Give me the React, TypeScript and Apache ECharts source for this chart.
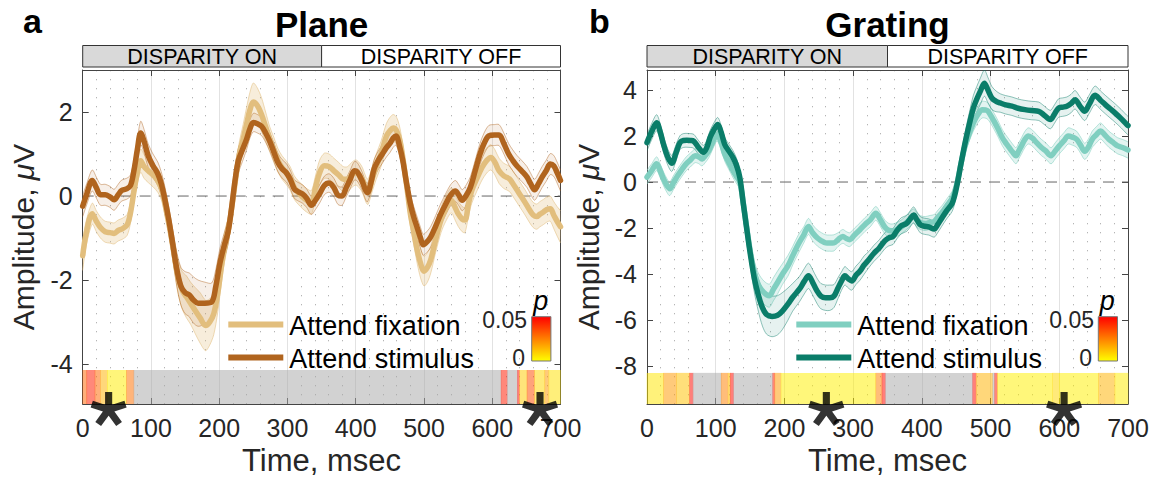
import React, { useEffect, useRef } from "react";
import * as echarts from "echarts";

const FONT = "'Liberation Sans', Arial, Helvetica, sans-serif";

// ---------- data: [time ms, mean µV, half-width of band µV] ----------
const planeFix: number[][] = [
  [0,-1.42,0.35],[5,-0.9,0.3],[14,-0.42,0.25],[20,-0.6,0.25],[26,-0.75,0.25],[33,-0.85,0.25],[40,-0.87,0.25],[46,-0.89,0.25],
  [52,-0.82,0.25],[58,-0.78,0.25],[65,-0.69,0.25],[70,-0.4,0.25],[75,0.1,0.25],[80,0.55,0.25],[85,0.84,0.28],[90,0.7,0.28],
  [96,0.6,0.28],[103,0.5,0.28],[110,0.37,0.28],[116,0.15,0.28],[122,-0.3,0.3],[128,-0.8,0.3],[134,-1.4,0.35],[140,-1.95,0.4],
  [146,-2.25,0.45],[152,-2.4,0.5],[158,-2.55,0.5],[165,-2.73,0.55],[172,-2.9,0.6],[180,-3.08,0.6],[186,-3.0,0.55],[192,-2.8,0.5],
  [198,-2.3,0.45],[203,-1.7,0.4],[208,-1.2,0.35],[214,-0.75,0.3],[219,-0.2,0.3],[224,0.4,0.3],[229,0.95,0.3],[235,1.35,0.35],
  [240,1.7,0.4],[245,2.05,0.42],[250,2.24,0.45],[256,2.15,0.42],[262,1.94,0.4],[268,1.65,0.35],[274,1.35,0.3],[280,1.1,0.3],
  [286,0.85,0.28],[292,0.68,0.28],[298,0.56,0.28],[304,0.42,0.28],[310,0.2,0.28],[316,0.08,0.28],[322,-0.02,0.28],[328,-0.1,0.28],
  [335,-0.15,0.28],[341,0.2,0.28],[347,0.55,0.3],[354,0.72,0.3],[361,0.7,0.3],[368,0.6,0.3],[375,0.5,0.3],[382,0.4,0.3],
  [388,0.4,0.3],[394,0.5,0.3],[400,0.56,0.3],[405,0.5,0.3],[410,0.37,0.3],[415,0.15,0.3],[418,0.1,0.3],[424,0.4,0.3],
  [430,0.7,0.3],[437,1.0,0.3],[445,1.43,0.3],[450,1.55,0.32],[455,1.62,0.32],[460,1.55,0.32],[465,1.3,0.3],[470,0.8,0.3],
  [475,0.2,0.3],[480,-0.42,0.3],[485,-0.85,0.3],[490,-1.28,0.32],[495,-1.6,0.35],[500,-1.79,0.35],[505,-1.7,0.35],[510,-1.51,0.32],
  [517,-1.05,0.3],[525,-0.57,0.3],[532,-0.3,0.3],[540,-0.1,0.3],[545,-0.25,0.3],[550,-0.42,0.3],[556,-0.55,0.3],[560,-0.57,0.3],
  [565,-0.2,0.3],[570,0.13,0.3],[577,0.4,0.3],[585,0.68,0.3],[592,0.85,0.3],[598,0.92,0.3],[604,0.8,0.3],[610,0.6,0.3],
  [617,0.48,0.3],[625,0.41,0.3],[632,0.25,0.3],[640,0.05,0.3],[648,-0.15,0.3],[655,-0.34,0.3],[660,-0.45,0.3],[665,-0.49,0.3],
  [670,-0.43,0.3],[675,-0.38,0.3],[680,-0.32,0.3],[685,-0.3,0.3],[690,-0.45,0.32],[695,-0.6,0.35],[700,-0.73,0.38],
];

const planeStim: number[][] = [
  [0,-0.24,0.25],[6,0.05,0.25],[14,0.37,0.25],[20,0.2,0.25],[26,0.03,0.25],[33,0.03,0.25],[40,-0.02,0.25],[46,-0.09,0.25],
  [52,0.03,0.25],[57,0.13,0.25],[64,0.17,0.25],[70,0.25,0.25],[75,0.6,0.25],[80,1.1,0.25],[85,1.5,0.28],[90,1.3,0.28],
  [96,0.96,0.28],[103,0.72,0.28],[110,0.53,0.28],[115,0.3,0.28],[120,-0.05,0.3],[126,-0.55,0.3],[132,-1.15,0.35],[138,-1.75,0.4],
  [144,-2.15,0.45],[150,-2.3,0.5],[156,-2.35,0.52],[162,-2.47,0.55],[169,-2.55,0.55],[179,-2.55,0.5],[189,-2.52,0.45],[195,-2.15,0.4],
  [201,-1.6,0.35],[207,-1.2,0.3],[213,-0.85,0.3],[218,-0.3,0.3],[223,0.35,0.3],[228,0.84,0.3],[234,1.1,0.28],[240,1.35,0.25],
  [245,1.6,0.22],[250,1.75,0.22],[256,1.72,0.22],[262,1.66,0.22],[268,1.5,0.22],[274,1.3,0.22],[280,1.05,0.22],[286,0.8,0.22],
  [292,0.65,0.22],[298,0.56,0.22],[304,0.4,0.22],[310,0.17,0.22],[316,0.1,0.22],[322,0.05,0.22],[328,-0.05,0.22],[335,-0.22,0.22],
  [341,-0.1,0.22],[347,0.05,0.22],[354,0.25,0.22],[361,0.31,0.22],[368,0.2,0.22],[374,0.02,0.22],[380,0.0,0.22],[386,0.2,0.22],
  [392,0.4,0.22],[398,0.6,0.22],[402,0.58,0.22],[409,0.37,0.22],[414,0.15,0.22],[417,0.08,0.22],[422,0.3,0.22],[427,0.65,0.22],
  [433,0.85,0.22],[439,1.0,0.22],[445,1.15,0.22],[450,1.25,0.22],[455,1.38,0.22],[459,1.43,0.22],[464,1.2,0.22],[469,0.84,0.22],
  [474,0.35,0.22],[480,-0.18,0.22],[485,-0.5,0.25],[490,-0.75,0.25],[495,-1.0,0.25],[499,-1.16,0.25],[505,-1.08,0.25],[510,-0.97,0.25],
  [517,-0.72,0.25],[524,-0.45,0.25],[531,-0.22,0.25],[539,0.02,0.25],[546,0.12,0.25],[551,0.02,0.25],[556,-0.1,0.25],[562,0.02,0.25],
  [568,0.21,0.25],[575,0.6,0.25],[582,1.0,0.25],[588,1.25,0.25],[595,1.43,0.25],[603,1.45,0.25],[610,1.45,0.25],[617,1.25,0.25],
  [624,1.0,0.25],[630,0.85,0.25],[636,0.72,0.25],[643,0.6,0.25],[651,0.45,0.25],[656,0.3,0.25],[662,0.15,0.25],[668,0.3,0.25],
  [673,0.45,0.25],[679,0.6,0.25],[685,0.76,0.25],[690,0.72,0.25],[695,0.56,0.25],[700,0.37,0.25],
];

const gratFix: number[][] = [
  [0,0.21,0.3],[7,0.5,0.3],[14,0.79,0.3],[19,0.5,0.3],[24,0.14,0.3],[29,-0.15,0.3],[33,-0.29,0.3],[39,0.0,0.3],
  [45,0.29,0.3],[51,0.55,0.3],[57,0.79,0.3],[63,0.95,0.3],[70,1.14,0.3],[75,1.1,0.3],[80,1.0,0.3],[85,1.15,0.3],
  [90,1.36,0.3],[96,1.75,0.3],[102,2.07,0.3],[108,1.7,0.3],[113,1.21,0.3],[119,0.85,0.3],[125,0.5,0.3],[130,0.25,0.3],
  [135,0.0,0.3],[140,-0.9,0.35],[145,-1.95,0.4],[150,-2.95,0.45],[156,-3.9,0.5],[162,-4.45,0.5],[170,-4.79,0.5],[178,-4.93,0.5],
  [184,-4.65,0.5],[190,-4.36,0.5],[197,-4.0,0.45],[205,-3.64,0.45],[212,-3.2,0.4],[220,-2.71,0.4],[228,-2.3,0.35],[235,-1.93,0.35],
  [241,-2.2,0.35],[248,-2.43,0.35],[254,-2.55,0.35],[260,-2.64,0.35],[266,-2.65,0.35],[272,-2.64,0.35],[278,-2.5,0.3],[285,-2.36,0.3],
  [290,-2.45,0.3],[295,-2.5,0.3],[302,-2.3,0.3],[310,-2.07,0.3],[317,-1.85,0.3],[325,-1.64,0.3],[333,-1.36,0.3],[339,-1.6,0.3],
  [346,-1.95,0.3],[352,-2.1,0.3],[358,-2.12,0.3],[364,-2.05,0.3],[370,-1.95,0.3],[378,-1.75,0.3],[383,-1.6,0.3],[388,-1.47,0.3],
  [393,-1.65,0.3],[398,-1.76,0.3],[405,-1.8,0.3],[412,-1.75,0.3],[418,-1.71,0.3],[424,-1.5,0.3],[430,-1.3,0.3],[437,-1.0,0.3],
  [444,-0.71,0.3],[448,-0.4,0.3],[452,0.05,0.3],[457,0.8,0.3],[463,1.57,0.3],[469,2.1,0.32],[475,2.57,0.35],[482,2.95,0.36],
  [488,3.14,0.36],[495,3.1,0.36],[500,2.9,0.35],[505,2.64,0.35],[511,2.3,0.35],[517,1.93,0.35],[522,1.7,0.35],[527,1.5,0.35],
  [532,1.3,0.35],[537,1.14,0.35],[541,1.35,0.35],[545,1.57,0.35],[550,1.85,0.35],[555,2.0,0.35],[561,1.9,0.35],[567,1.71,0.35],
  [574,1.5,0.35],[580,1.36,0.35],[588,1.14,0.35],[594,1.35,0.35],[600,1.57,0.35],[607,1.8,0.35],[613,2.0,0.35],[619,1.95,0.35],
  [625,1.86,0.35],[631,1.6,0.35],[637,1.33,0.35],[643,1.55,0.35],[648,1.86,0.35],[654,2.05,0.35],[660,2.21,0.35],[666,2.05,0.35],
  [672,1.86,0.35],[679,1.7,0.35],[685,1.57,0.35],[692,1.5,0.35],[700,1.39,0.35],
];

const gratStim: number[][] = [
  [0,1.71,0.35],[7,2.2,0.35],[14,2.57,0.35],[19,2.2,0.35],[24,1.64,0.35],[30,1.1,0.35],[36,0.81,0.35],[42,1.25,0.35],
  [48,1.71,0.3],[53,1.8,0.3],[58,1.81,0.3],[63,1.8,0.3],[68,1.77,0.3],[75,1.5,0.3],[82,1.29,0.3],[87,1.5,0.3],
  [92,1.95,0.3],[98,2.3,0.3],[103,2.5,0.3],[108,2.15,0.3],[113,1.64,0.3],[119,1.35,0.3],[125,1.07,0.3],[130,0.75,0.3],
  [135,0.21,0.3],[140,-0.9,0.35],[145,-2.0,0.4],[150,-3.05,0.5],[156,-4.15,0.6],[162,-4.9,0.7],[168,-5.45,0.8],[174,-5.75,0.85],
  [182,-5.83,0.88],[190,-5.78,0.85],[197,-5.6,0.8],[205,-5.3,0.7],[212,-5.0,0.6],[222,-4.64,0.55],[229,-4.3,0.55],[235,-4.07,0.55],
  [241,-4.35,0.55],[247,-4.7,0.55],[253,-4.95,0.55],[260,-5.02,0.55],[266,-5.02,0.55],[272,-4.95,0.5],[278,-4.6,0.45],[283,-4.3,0.4],
  [288,-4.07,0.4],[293,-4.2,0.4],[298,-4.29,0.4],[304,-4.05,0.4],[310,-3.86,0.4],[316,-3.6,0.4],[323,-3.36,0.35],[330,-3.1,0.35],
  [338,-2.86,0.35],[346,-2.55,0.35],[352,-2.42,0.35],[358,-2.36,0.35],[364,-2.1,0.35],[370,-1.9,0.35],[378,-1.79,0.35],[383,-1.6,0.35],
  [388,-1.43,0.35],[393,-1.65,0.35],[398,-1.86,0.35],[404,-1.92,0.35],[410,-1.95,0.35],[418,-2.04,0.35],[423,-1.85,0.35],[429,-1.57,0.35],
  [436,-1.25,0.35],[444,-0.93,0.35],[448,-0.55,0.35],[452,0.0,0.35],[457,0.8,0.4],[463,1.71,0.45],[469,2.5,0.5],[475,3.21,0.55],
  [480,3.6,0.55],[485,3.93,0.57],[491,4.29,0.57],[496,4.0,0.55],[502,3.64,0.5],[508,3.5,0.45],[514,3.43,0.4],[522,3.35,0.4],
  [531,3.29,0.4],[540,3.2,0.4],[550,3.14,0.4],[560,3.1,0.4],[570,3.07,0.4],[578,2.9,0.4],[587,2.71,0.4],[593,2.95,0.4],
  [599,3.21,0.4],[605,3.25,0.4],[611,3.29,0.4],[617,3.4,0.4],[623,3.57,0.4],[630,3.3,0.4],[637,3.07,0.4],[644,3.4,0.4],
  [652,3.76,0.4],[660,3.55,0.4],[667,3.36,0.4],[674,3.18,0.4],[681,3.0,0.4],[690,2.75,0.4],[698,2.5,0.4],[700,2.45,0.4],
];

// p-value segments: [from ms, to ms, p]; p >= 0.05 = not significant (grey)
const planeP: number[][] = [
  [0,6,0.03],[6,18,0.045],[18,26,0.03],[26,36,0.015],[36,64,0.004],[64,75,0.028],[75,613,1],[613,622,0.045],
  [622,637,1],[637,640,0.048],[640,651,0.01],[651,662,0.035],[662,677,0.008],[677,683,0.02],[683,700,0.006],
];
const gratP: number[][] = [
  [0,24,0.005],[24,43,0.02],[43,62,0.012],[62,67,0.048],[67,108,1],[108,118,0.025],[118,121,0.01],[121,126,0.048],
  [126,183,1],[183,186,0.045],[186,195,0.02],[195,333,0.003],[333,342,0.025],[342,347,0.048],[347,474,1],[474,479,0.048],
  [479,503,0.015],[503,506,1],[506,510,0.045],[510,590,0.003],[590,600,0.008],[600,657,0.003],[657,681,0.015],[681,700,0.004],
];

const planeStars = [38, 670];
const gratStars = [261, 607];

const xTicks = [0, 100, 200, 300, 400, 500, 600, 700];
const planeYTicks = [-4, -2, 0, 2];
const gratYTicks = [-8, -6, -4, -2, 0, 2, 4];
const planeYRange = [-4.95, 3.0];
const gratYRange = [-9.63, 4.86];
const planePBar = [-4.95, -4.14];
const gratPBar = [-9.63, -8.28];

const legendNames = ["Attend fixation", "Attend stimulus"];
const disparityLabels = ["DISPARITY ON", "DISPARITY OFF"];
const colorbarLabels = ["0.05", "0"];

const COL = {
  planeFix: "#e2be7d",
  planeStim: "#b0641e",
  gratFix: "#80cfc0",
  gratStim: "#0a7d69",
};

// geometry
const GA = { left: 82.7, top: 70, width: 477.8, height: 338 };
const GB = { left: 647, top: 70, width: 481, height: 338 };

function asteriskPath(): string {
  const w = 0.2;
  let d = "";
  for (let k = 0; k < 5; k++) {
    const a = ((-90 + 72 * k) * Math.PI) / 180;
    const ux = Math.cos(a), uy = Math.sin(a);
    const px = -uy * w, py = ux * w;
    const pts = [
      [px, py],
      [ux + px, uy + py],
      [ux - px, uy - py],
      [-px, -py],
    ];
    d += "M" + pts.map((p) => (p[0] * 50 + 50).toFixed(2) + " " + (p[1] * 50 + 50).toFixed(2)).join("L") + "Z";
  }
  return "path://" + d;
}

function pColor(p: number): string {
  if (p >= 0.05) return "#a8a8a8";
  const g = Math.round(255 * (1 - p / 0.05));
  return `rgb(255,${Math.max(g, 0)},0)`;
}

function bandSeries(rows: number[][], color: string, fillOp: number, edgeOp: number, ai: number) {
  return {
    type: "custom",
    xAxisIndex: ai,
    yAxisIndex: ai,
    clip: true,
    silent: true,
    z: 2,
    data: rows.map((r) => [r[0], r[1] - r[2], r[1] + r[2]]),
    encode: { x: 0, y: [1, 2] },
    renderItem: (params: any, api: any) => {
      if (params.dataIndex !== 0) return null;
      const up = rows.map((r) => api.coord([r[0], r[1] + r[2]]));
      const lo = rows.map((r) => api.coord([r[0], r[1] - r[2]]));
      return {
        type: "group",
        children: [
          {
            type: "polygon",
            shape: { points: up.concat(lo.slice().reverse()), smooth: 0.3 },
            style: { fill: color, opacity: fillOp },
          },
          {
            type: "polyline",
            shape: { points: up, smooth: 0.3 },
            style: { stroke: color, fill: null, lineWidth: 1, opacity: edgeOp },
          },
          {
            type: "polyline",
            shape: { points: lo, smooth: 0.3 },
            style: { stroke: color, fill: null, lineWidth: 1, opacity: edgeOp },
          },
        ],
      };
    },
  };
}

function meanSeries(name: string, rows: number[][], color: string, ai: number, z: number) {
  return {
    type: "line",
    name,
    xAxisIndex: ai,
    yAxisIndex: ai,
    data: rows.map((r) => [r[0], r[1]]),
    showSymbol: false,
    symbol: "none",
    smooth: 0.35,
    z,
    lineStyle: { color, width: 5.5, cap: "round", join: "round" },
    silent: true,
  };
}

function pBarSeries(rows: number[][], bar: number[], ai: number) {
  return {
    type: "custom",
    xAxisIndex: ai,
    yAxisIndex: ai,
    silent: true,
    z: 5,
    data: rows,
    encode: { x: [0, 1] },
    renderItem: (params: any, api: any) => {
      const a = api.coord([api.value(0), bar[1]]);
      const b = api.coord([api.value(1), bar[0]]);
      return {
        type: "rect",
        shape: { x: a[0] - 0.3, y: a[1], width: b[0] - a[0] + 0.6, height: b[1] - a[1] },
        style: { fill: pColor(api.value(2)), opacity: 0.52 },
      };
    },
  };
}

function starSeries(times: number[], yMin: number, ai: number) {
  return {
    type: "scatter",
    xAxisIndex: ai,
    yAxisIndex: ai,
    data: times.map((t) => [t, yMin]),
    symbol: asteriskPath(),
    symbolKeepAspect: true,
    symbolSize: 36,
    symbolOffset: [0, 5],
    itemStyle: { color: "#000" },
    clip: false,
    silent: true,
    z: 20,
  };
}

function zeroLine(ai: number) {
  return {
    type: "line",
    xAxisIndex: ai,
    yAxisIndex: ai,
    data: [[0, 0], [700, 0]],
    showSymbol: false,
    symbol: "none",
    lineStyle: { color: "#666", width: 1, type: [11, 8] },
    z: 1,
    silent: true,
  };
}

const axisTickStyle = { show: true, inside: true, length: 6, lineStyle: { color: "#444", width: 1 } };
const axisLineStyle = { show: true, onZero: false, lineStyle: { color: "#444", width: 1 } };
const labelStyle = { fontFamily: FONT, fontSize: 25, color: "#262626" };

function xAxes(gi: number) {
  return [
    {
      type: "value",
      gridIndex: gi,
      position: "bottom",
      min: 0,
      max: 700,
      interval: 100,
      axisLine: axisLineStyle,
      axisTick: axisTickStyle,
      axisLabel: { ...labelStyle, margin: 11, customValues: xTicks },
      splitLine: { show: true, lineStyle: { color: "#e2e2e2", width: 1 } },
      minorTick: { show: false, splitNumber: 5 },
      minorSplitLine: { show: true, lineStyle: { color: "#b5b5b5", width: 1, type: [1.3, 7.7] } },
      name: "Time, msec",
      nameLocation: "middle",
      nameGap: 41,
      nameTextStyle: { fontFamily: FONT, fontSize: 31, color: "#262626" },
    },
    {
      type: "value",
      gridIndex: gi,
      position: "top",
      min: 0,
      max: 700,
      interval: 100,
      axisLine: axisLineStyle,
      axisTick: axisTickStyle,
      axisLabel: { show: false },
      splitLine: { show: false },
    },
  ];
}

function yAxes(gi: number, range: number[], ticks: number[]) {
  return [
    {
      type: "value",
      gridIndex: gi,
      position: "left",
      min: range[0],
      max: range[1],
      axisLine: axisLineStyle,
      axisTick: { ...axisTickStyle, customValues: ticks },
      axisLabel: { ...labelStyle, margin: 10, customValues: ticks },
      splitLine: { show: false },
      name: "Amplitude, {i|μ}V",
      nameLocation: "middle",
      nameGap: 44,
      nameTextStyle: {
        fontFamily: FONT,
        fontSize: 30,
        color: "#262626",
        rich: { i: { fontFamily: FONT, fontSize: 30, fontStyle: "italic", color: "#262626" } },
      },
    },
    {
      type: "value",
      gridIndex: gi,
      position: "right",
      min: range[0],
      max: range[1],
      axisLine: axisLineStyle,
      axisTick: { ...axisTickStyle, customValues: ticks },
      axisLabel: { show: false },
      splitLine: { show: false },
    },
  ];
}

function panelGraphics(g: typeof GA, letter: string, title: string, colors: string[], legendX: number, cbX: number, cbLabelRight: number) {
  const els: any[] = [];
  const mid = g.left + g.width / 2;
  els.push({
    type: "text",
    x: mid,
    y: 24,
    z: 40,
    style: { text: title, fontFamily: FONT, fontSize: 35, fontWeight: "bold", fill: "#000", align: "center", verticalAlign: "middle" },
  });
  els.push({
    type: "text",
    x: letter === "a" ? 23 : 589,
    y: 21,
    z: 40,
    style: { text: letter, fontFamily: FONT, fontSize: 34, fontWeight: "bold", fill: "#000", align: "left", verticalAlign: "middle" },
  });
  // disparity header
  const half = g.width / 2;
  els.push({
    type: "rect",
    shape: { x: g.left, y: 45.5, width: half, height: 21.5 },
    style: { fill: "#d9d9d9", stroke: "#333", lineWidth: 1 },
  });
  els.push({
    type: "rect",
    shape: { x: g.left + half, y: 45.5, width: half, height: 21.5 },
    style: { fill: "#fff", stroke: "#333", lineWidth: 1 },
  });
  disparityLabels.forEach((lab, i) => {
    els.push({
      type: "text",
      x: g.left + half * (i + 0.5),
      y: 57,
      style: { text: lab, fontFamily: FONT, fontSize: 21.5, fill: "#000", align: "center", verticalAlign: "middle" },
    });
  });
  // legend
  const ly = [324.5, 357.5];
  legendNames.forEach((n, i) => {
    els.push({
      type: "line",
      shape: { x1: legendX, y1: ly[i], x2: legendX + 55, y2: ly[i] },
      style: { stroke: colors[i], lineWidth: 6 },
      z: 30,
    });
    els.push({
      type: "text",
      x: legendX + 61,
      y: ly[i] + 1,
      style: { text: n, fontFamily: FONT, fontSize: 27, fill: "#000", align: "left", verticalAlign: "middle" },
      z: 30,
    });
  });
  // colorbar
  els.push({
    type: "rect",
    shape: { x: cbX, y: 316.7, width: 19.2, height: 44.3 },
    style: {
      fill: new echarts.graphic.LinearGradient(0, 0, 0, 1, [
        { offset: 0, color: "#ff0000" },
        { offset: 1, color: "#ffff00" },
      ]),
      stroke: "#777",
      lineWidth: 1,
    },
    z: 30,
  });
  els.push({
    type: "text",
    x: cbLabelRight,
    y: 320,
    style: { text: colorbarLabels[0], fontFamily: FONT, fontSize: 23, fill: "#262626", align: "right", verticalAlign: "middle" },
    z: 30,
  });
  els.push({
    type: "text",
    x: cbLabelRight - 2,
    y: 358,
    style: { text: colorbarLabels[1], fontFamily: FONT, fontSize: 23, fill: "#262626", align: "right", verticalAlign: "middle" },
    z: 30,
  });
  els.push({
    type: "text",
    x: cbX + 9,
    y: 301,
    style: { text: "p", fontFamily: FONT, fontSize: 27, fontStyle: "italic", fill: "#000", align: "center", verticalAlign: "middle" },
    z: 30,
  });
  return els;
}

export default function App() {
  const ref = useRef<HTMLDivElement>(null);
  useEffect(() => {
    document.body.style.margin = "0";
    if (!ref.current) return;
    const chart = echarts.init(ref.current, undefined, { renderer: "svg" });
    const option: any = {
      animation: false,
      backgroundColor: "#fff",
      grid: [
        { ...GA, containLabel: false },
        { ...GB, containLabel: false },
      ],
      xAxis: [...xAxes(0), ...xAxes(1)],
      yAxis: [...yAxes(0, planeYRange, planeYTicks), ...yAxes(1, gratYRange, gratYTicks)],
      series: [
        zeroLine(0),
        bandSeries(planeFix, COL.planeFix, 0.28, 0.55, 0),
        bandSeries(planeStim, COL.planeStim, 0.1, 0.45, 0),
        meanSeries("Attend fixation", planeFix, COL.planeFix, 0, 3),
        meanSeries("Attend stimulus", planeStim, COL.planeStim, 0, 4),
        pBarSeries(planeP, planePBar, 0),
        starSeries(planeStars, planeYRange[0], 0),
        zeroLine(2),
        bandSeries(gratFix, COL.gratFix, 0.22, 0.55, 2),
        bandSeries(gratStim, COL.gratStim, 0.1, 0.45, 2),
        meanSeries("Attend fixation", gratFix, COL.gratFix, 2, 3),
        meanSeries("Attend stimulus", gratStim, COL.gratStim, 2, 4),
        pBarSeries(gratP, gratPBar, 2),
        starSeries(gratStars, gratYRange[0], 2),
      ],
      graphic: [
        ...panelGraphics(GA, "a", "Plane", [COL.planeFix, COL.planeStim], 228.3, 531.7, 527),
        ...panelGraphics(GB, "b", "Grating", [COL.gratFix, COL.gratStim], 796.3, 1098.3, 1094),
      ],
    };
    chart.setOption(option);
    return () => chart.dispose();
  }, []);
  return <div ref={ref} style={{ width: 1167, height: 481 }} />;
}
